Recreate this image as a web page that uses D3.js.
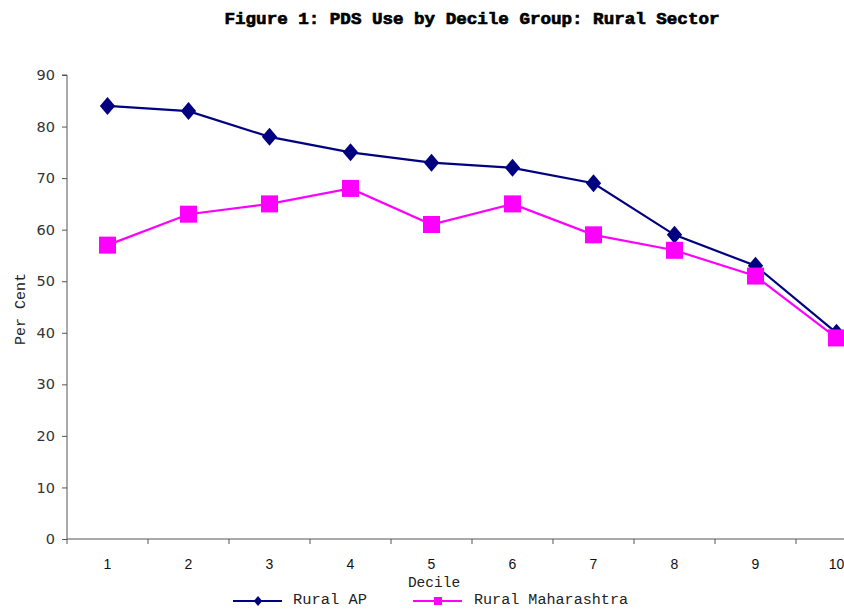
<!DOCTYPE html>
<html>
<head>
<meta charset="utf-8">
<script src="https://cdn.jsdelivr.net/npm/d3@7"></script>
<style>
  body { margin: 0; background: #fff; }
  svg { display: block; }
</style>
</head>
<body>
<svg id="chart" width="844" height="609"></svg>
<script>
// PDS use by decile group, rural sector
const deciles = ["1", "2", "3", "4", "5", "6", "7", "8", "9", "10"];
const ruralAP = [84, 83, 78, 75, 73, 72, 69, 59, 53, 40];
const ruralMaharashtra = [57, 63, 65, 68, 61, 65, 59, 56, 51, 39];
const yTicks = [0, 10, 20, 30, 40, 50, 60, 70, 80, 90];

(function () {
const svg = d3.select("#chart");
const mono = "'Liberation Mono', 'Courier New', monospace";
const sans = "'Liberation Sans', Arial, sans-serif";
const dvs = "'DejaVu Sans', Verdana, sans-serif";

const plotLeft = 67, bandW = 81, plotTop = 75, plotBottom = 539;

const x = d3.scaleBand().domain(deciles).range([plotLeft, plotLeft + bandW * deciles.length]);
const y = d3.scaleLinear().domain([0, 90]).range([plotBottom, plotTop]);

// title
svg.append("text")
  .attr("x", 472).attr("y", 24)
  .attr("text-anchor", "middle")
  .attr("font-family", mono).attr("font-weight", "bold").attr("font-size", 17)
  .attr("stroke", "#000").attr("stroke-width", 0.7)
  .attr("textLength", 495).attr("lengthAdjust", "spacingAndGlyphs")
  .text("Figure 1: PDS Use by Decile Group: Rural Sector");

// y axis
const yAxis = svg.append("g")
  .attr("transform", `translate(${plotLeft},0)`)
  .call(d3.axisLeft(y).tickValues(yTicks).tickSize(5).tickPadding(7));
yAxis.select(".domain").attr("stroke", "#555").attr("d", `M-5,${plotTop}H0V${plotBottom}`);
yAxis.selectAll(".tick line").attr("stroke", "#555");
yAxis.selectAll(".tick text").attr("font-family", dvs).attr("font-size", 14.5).attr("fill", "#333");

// x axis
const xAxis = svg.append("g")
  .attr("transform", `translate(0,${plotBottom})`)
  .call(d3.axisBottom(x).tickSize(0).tickPadding(20));
xAxis.select(".domain").attr("stroke", "#555").attr("d", `M${plotLeft},0H844`);
xAxis.selectAll(".tick text").attr("font-family", sans).attr("font-size", 14).attr("fill", "#111");
// tick marks at category boundaries
svg.append("g").selectAll("line")
  .data(deciles)
  .join("line")
  .attr("x1", d => x(d)).attr("x2", d => x(d))
  .attr("y1", plotBottom).attr("y2", plotBottom + 5)
  .attr("stroke", "#555");

// axis titles
svg.append("text")
  .attr("x", 434).attr("y", 587)
  .attr("text-anchor", "middle")
  .attr("font-family", mono).attr("font-size", 14.5).attr("fill", "#222")
  .text("Decile");
svg.append("text")
  .attr("transform", "translate(25,309) rotate(-90)")
  .attr("text-anchor", "middle")
  .attr("font-family", mono).attr("font-size", 15).attr("fill", "#222")
  .text("Per Cent");

const cx = d => x(d) + x.bandwidth() / 2;
const line = d3.line().x(d => cx(d.k)).y(d => y(d.v));

const series = [
  { name: "Rural AP", values: ruralAP, color: "#000080", shape: "diamond" },
  { name: "Rural Maharashtra", values: ruralMaharashtra, color: "#ff00ff", shape: "square" }
];

function marker(g, shape, color, size) {
  if (shape === "diamond") {
    const h = size / 2;
    g.append("path").attr("d", `M0,${-h}L${h * 0.85},0L0,${h}L${-h * 0.85},0Z`).attr("fill", color);
  } else {
    g.append("rect").attr("x", -size / 2).attr("y", -size / 2)
      .attr("width", size).attr("height", size).attr("fill", color);
  }
}

series.forEach(s => {
  const pts = s.values.map((v, i) => ({ k: deciles[i], v }));
  svg.append("path").datum(pts)
    .attr("d", line).attr("fill", "none")
    .attr("stroke", s.color).attr("stroke-width", 2.2);
  pts.forEach(p => {
    const g = svg.append("g").attr("transform", `translate(${cx(p.k)},${y(p.v)})`);
    marker(g, s.shape, s.color, s.shape === "diamond" ? 18 : 17);
  });
});

// legend
const legend = [
  { s: series[0], x0: 233, tx: 293, w: 74 },
  { s: series[1], x0: 413, tx: 474, w: 154 }
];
legend.forEach(l => {
  const ly = 601;
  svg.append("line").attr("x1", l.x0).attr("x2", l.x0 + 49)
    .attr("y1", ly).attr("y2", ly).attr("stroke", l.s.color).attr("stroke-width", 2);
  const g = svg.append("g").attr("transform", `translate(${l.x0 + 25},${ly})`);
  marker(g, l.s.shape, l.s.color, l.s.shape === "diamond" ? 10 : 8);
  svg.append("text").attr("x", l.tx).attr("y", ly + 3)
    .attr("font-family", mono).attr("font-size", 14).attr("fill", "#222")
    .attr("textLength", l.w).attr("lengthAdjust", "spacingAndGlyphs")
    .text(l.s.name);
});
})();
</script>
</body>
</html>
